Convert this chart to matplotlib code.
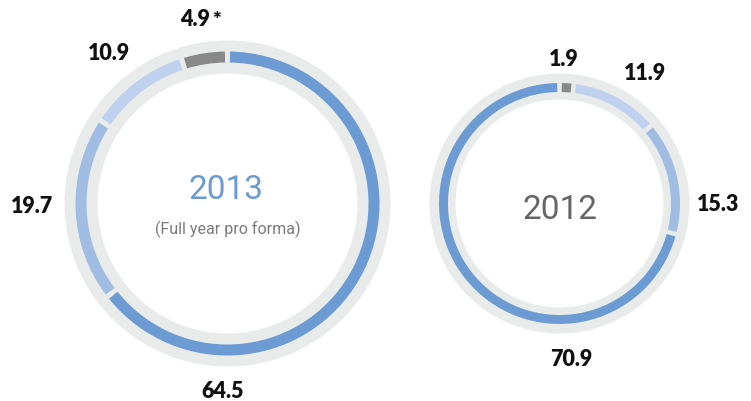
import numpy as np
import matplotlib
matplotlib.use("Agg")
import matplotlib.pyplot as plt
from matplotlib.patches import Wedge

# data (clockwise from 12 o'clock)
vals_2013 = [64.5, 19.7, 10.9, 4.9]
vals_2012 = [1.9, 11.9, 15.3, 70.9]
cols_2013 = ["#6b9bd2", "#a0bce3", "#bfd1ee", "#888888"]
cols_2012 = ["#888888", "#bfd1ee", "#a0bce3", "#6b9bd2"]
labels_2013 = ["64.5", "19.7", "10.9", "4.9"]
labels_2012 = ["1.9", "11.9", "15.3", "70.9"]

W, H = 751, 402
fig = plt.figure(figsize=(7.51, 4.02), dpi=100)
ax = fig.add_axes([0, 0, 1, 1])
ax.set_xlim(0, W)
ax.set_ylim(0, H)
ax.set_aspect("equal")
ax.axis("off")

ring = "#e9eaea"


def donut(cx, cy, r_out, r_in, b_out, b_in, vals, cols, gap_px):
    cy = H - cy
    ax.add_patch(Wedge((cx, cy), r_out, 0, 360, width=r_out - r_in, color=ring, lw=0))
    rm = (b_out + b_in) / 2
    gap = np.degrees(gap_px / rm)
    cum = np.concatenate([[0], np.cumsum(vals)]) / np.sum(vals) * 360
    for i, c in enumerate(cols):
        t2 = 90 - cum[i] - gap / 2
        t1 = 90 - cum[i + 1] + gap / 2
        ax.add_patch(Wedge((cx, cy), b_out, t1, t2, width=b_out - b_in, color=c, lw=0))


donut(227.5, 204.5, 163, 130, 152, 141, vals_2013, cols_2013, 5)
donut(559.5, 204.5, 130, 104, 120.5, 111.5, vals_2012, cols_2012, 4.5)

lab = dict(fontfamily="Lato", fontweight="heavy", fontsize=15.5, color="#111111",
           ha="center", va="center")
pos_2013 = [(223, 392), (32, 207), (109, 54), (195, 20)]
pos_2012 = [(564, 59), (645, 74), (718, 205), (571, 360)]
for t, (x, y) in zip(labels_2013, pos_2013):
    ax.text(x, H - y, t, **lab)
for t, (x, y) in zip(labels_2012, pos_2012):
    ax.text(x, H - y, t, **lab)
ax.text(217, H - 20, "*", fontfamily="Lato", fontweight="heavy", fontsize=15,
        color="#111111", ha="center", va="center")

ax.text(226, H - 190, "2013", fontfamily="Roboto", fontsize=24, color="#6b9bd2",
        ha="center", va="center")
ax.text(228, H - 229, "(Full year pro forma)", fontfamily="Roboto", fontsize=11.5,
        color="#7a7a7a", ha="center", va="center")
ax.text(560, H - 210, "2012", fontfamily="Roboto", fontsize=24, color="#666666",
        ha="center", va="center")

fig.savefig("out.png", dpi=100)
